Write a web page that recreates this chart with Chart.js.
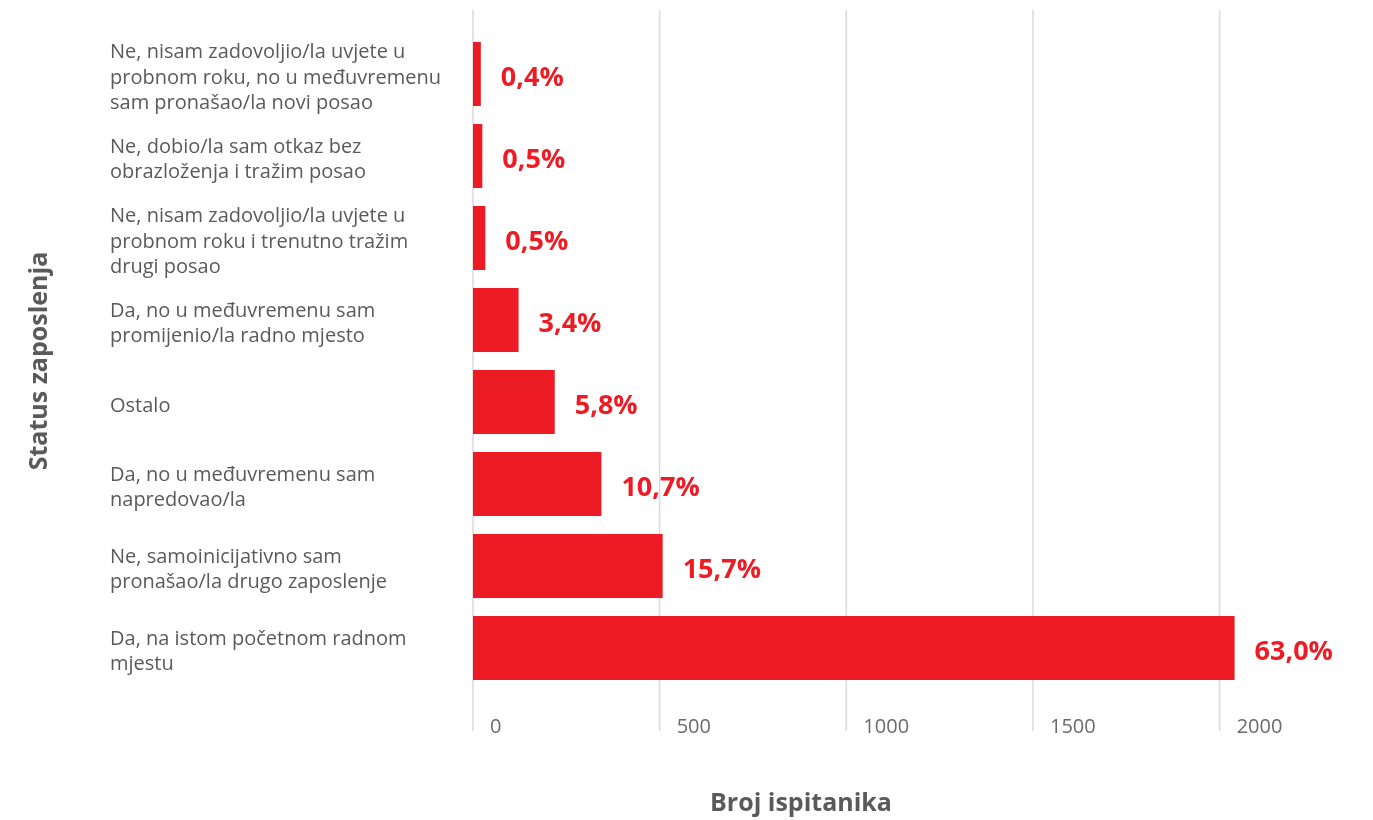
<!DOCTYPE html>
<html>
<head>
<meta charset="utf-8">
<script src="https://cdn.jsdelivr.net/npm/chart.js@4"></script>
<style>
  body { margin: 0; background: #fff; }
  #wrap { width: 1373px; height: 820px; position: relative; }
</style>
</head>
<body>
<div id="wrap"><canvas id="statusChart"></canvas></div>
<script>
// categories, top to bottom
const categories = [
  ['Ne, nisam zadovoljio/la uvjete u', 'probnom roku, no u međuvremenu', 'sam pronašao/la novi posao'],
  ['Ne, dobio/la sam otkaz bez', 'obrazloženja i tražim posao'],
  ['Ne, nisam zadovoljio/la uvjete u', 'probnom roku i trenutno tražim', 'drugi posao'],
  ['Da, no u međuvremenu sam', 'promijenio/la radno mjesto'],
  ['Ostalo'],
  ['Da, no u međuvremenu sam', 'napredovao/la'],
  ['Ne, samoinicijativno sam', 'pronašao/la drugo zaposlenje'],
  ['Da, na istom početnom radnom', 'mjestu']
];
const respondents = [21, 25, 33, 122, 219, 344, 508, 2040];
const percentLabels = ['0,4%', '0,5%', '0,5%', '3,4%', '5,8%', '10,7%', '15,7%', '63,0%'];
const xTicks = [0, 500, 1000, 1500, 2000];

const RED = '#ed1c24';
const GREY_TEXT = '#5a5a5a';

// grid lines run a bit past the plot area, top and bottom
const gridPlugin = {
  id: 'grid',
  beforeDatasetsDraw(chart) {
    const ctx = chart.ctx;
    const xs = chart.scales.x;
    ctx.save();
    ctx.strokeStyle = '#dadada';
    ctx.lineWidth = 1.5;
    xs.ticks.forEach(t => {
      const x = xs.getPixelForValue(t.value);
      ctx.beginPath();
      ctx.moveTo(x, 10);
      ctx.lineTo(x, 731);
      ctx.stroke();
    });
    ctx.restore();
  }
};

// percentage next to each bar
const percentPlugin = {
  id: 'percent',
  afterDatasetsDraw(chart) {
    const ctx = chart.ctx;
    const meta = chart.getDatasetMeta(0);
    ctx.save();
    ctx.fillStyle = RED;
    ctx.font = 'bold 27px "Open Sans"';
    ctx.textAlign = 'left';
    ctx.textBaseline = 'middle';
    meta.data.forEach((bar, i) => {
      ctx.fillText(percentLabels[i], bar.x + 20, bar.y + 4);
    });
    ctx.restore();
  }
};

// axis titles
const titlesPlugin = {
  id: 'titles',
  afterDraw(chart) {
    const ctx = chart.ctx;
    ctx.save();
    ctx.fillStyle = GREY_TEXT;
    ctx.font = 'bold 25px "Open Sans"';
    ctx.textAlign = 'center';
    ctx.textBaseline = 'middle';
    ctx.fillText('Broj ispitanika', 801, 804);
    ctx.translate(40, 361);
    ctx.rotate(-Math.PI / 2);
    ctx.fillText('Status zaposlenja', 0, 0);
    ctx.restore();
  }
};

new Chart(document.getElementById('statusChart'), {
  type: 'bar',
  data: {
    labels: categories,
    datasets: [{
      data: respondents,
      backgroundColor: RED,
      borderWidth: 0,
      barPercentage: 0.78,
      categoryPercentage: 1
    }]
  },
  options: {
    indexAxis: 'y',
    responsive: true,
    maintainAspectRatio: false,
    animation: false,
    layout: { padding: { left: 110, top: 33, right: 4, bottom: 0 } },
    plugins: {
      legend: { display: false },
      tooltip: { enabled: false }
    },
    scales: {
      x: {
        min: 0,
        max: 2400,
        afterBuildTicks: scale => {
          scale.ticks = xTicks.map(v => ({ value: v }));
        },
        afterFit: scale => { scale.height = 131; },
        grid: { display: false, drawTicks: false },
        border: { display: false },
        ticks: {
          autoSkip: false,
          maxRotation: 0,
          align: 'start',
          labelOffset: 17,
          padding: 26,
          color: '#6a6a6a',
          callback: v => String(v),
          font: { family: 'Open Sans', size: 20 }
        }
      },
      y: {
        afterFit: scale => { scale.width = 363; },
        grid: { display: false },
        border: { display: false },
        ticks: {
          autoSkip: false,
          crossAlign: 'far',
          labelOffset: 4,
          color: GREY_TEXT,
          font: { family: 'Open Sans', size: 20, lineHeight: 1.275 }
        }
      }
    }
  },
  plugins: [gridPlugin, percentPlugin, titlesPlugin]
});
</script>
</body>
</html>
